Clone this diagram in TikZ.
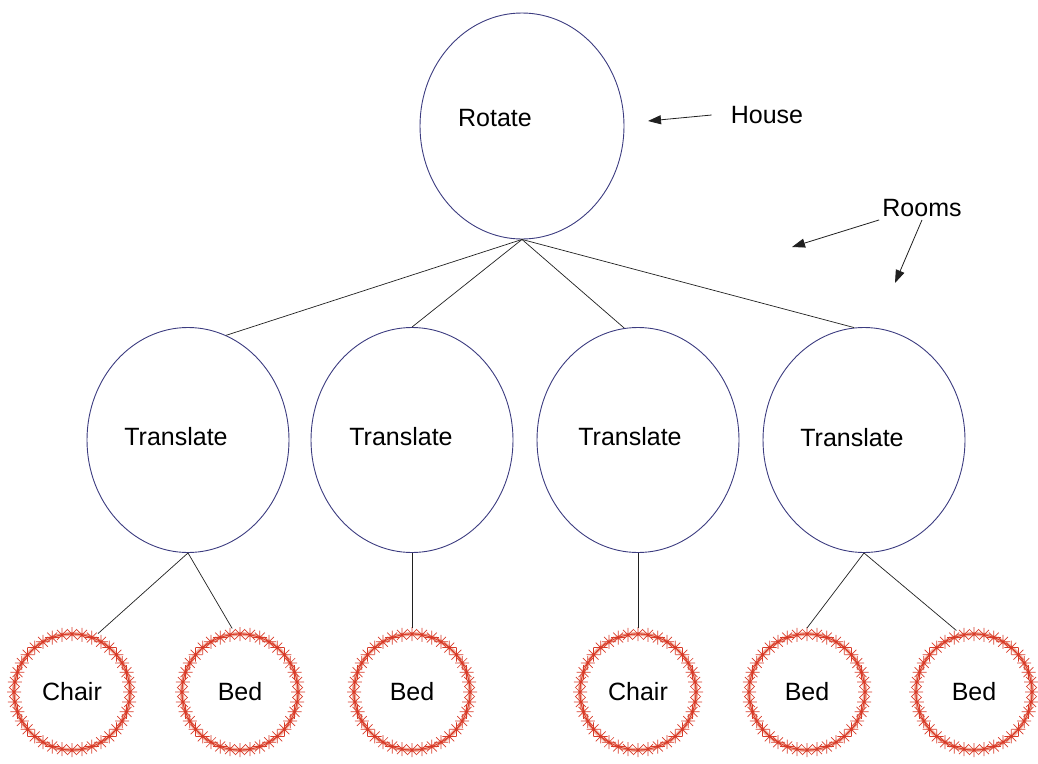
\documentclass[tikz,border=0pt]{standalone}
\usepackage{fontspec}
\setmainfont{Liberation Sans}
\usetikzlibrary{shapes.geometric,arrows.meta}
\definecolor{ring}{HTML}{3C3C80}
\definecolor{wire}{HTML}{202020}
\definecolor{leafred}{HTML}{D83A28}
\definecolor{leafglow}{HTML}{F4B8A8}
\tikzset{
  opnode/.style={draw=ring, line width=0.9pt, ellipse, inner sep=0pt, minimum width=202pt, minimum height=225pt},
  leaf/.style={circle, draw=leafglow, line width=4pt, inner sep=0pt, minimum size=116pt, outer sep=6pt, font=\fontsize{25}{30}\selectfont},
  lab/.style={font=\fontsize{25}{30}\selectfont, inner sep=3pt},
  link/.style={draw=wire, line width=0.7pt},
  ptr/.style={draw=wire, line width=0.8pt, -{Triangle[length=13pt,width=9pt]}},
  starmark/.style={draw=leafred, line width=0.7pt},
}
\begin{document}
\begin{tikzpicture}[x=1pt, y=-1pt]
  \useasboundingbox (0,0) rectangle (1038,763);

  % operations
  \node[opnode, minimum width=204pt, minimum height=226pt] (root) at (522,126) {};
  \node[lab] (rootlab) at (495,118) {Rotate};

  \node[opnode] (t1) at (188,440) {};
  \node[opnode] (t2) at (412,440) {};
  \node[opnode] (t3) at (638,440) {};
  \node[opnode] (t4) at (864,440) {};
  \node[lab] (t1lab) at (176,437) {Translate};
  \node[lab] (t2lab) at (401,437) {Translate};
  \node[lab] (t3lab) at (630,437) {Translate};
  \node[lab] (t4lab) at (852,438) {Translate};

  % objects
  \node[leaf] (c1) at (72,692) {Chair};
  \node[leaf] (b1) at (240,692) {Bed};
  \node[leaf] (b2) at (412,692) {Bed};
  \node[leaf] (c2) at (638,692) {Chair};
  \node[leaf] (b3) at (807,692) {Bed};
  \node[leaf] (b4) at (974,692) {Bed};

  \foreach \n in {c1,b1,b2,c2,b3,b4} {
    \draw[leafred, line width=0.8pt] (\n.center) circle[radius=58];
    \foreach \a in {0,10,...,350}
      \draw[starmark, shift={(\n.\a)}, shift={(\a:-6pt)}]
        (0:7) -- (180:7) (45:7) -- (225:7) (90:7) -- (270:7) (135:7) -- (315:7);
  }

  % tree
  \draw[link] (root.south) -- (t1.70);
  \draw[link] (root.south) -- (t2.north);
  \draw[link] (root.south) -- (t3.97);
  \draw[link] (root.south) -- (t4.95);

  \draw[link] (t1.south) -- (c1.66);
  \draw[link] (t1.south) -- (b1.97);
  \draw[link] (t2.south) -- (b2.north);
  \draw[link] (t3.south) -- (c2.north);
  \draw[link] (t4.south) -- (b3.north);
  \draw[link] (t4.south) -- (b4.106);

  % notes
  \node[lab] (house) at (767,115) {House};
  \node[lab] (rooms) at (922,208) {Rooms};
  \coordinate (housetip) at (648,121);
  \coordinate (roomtipa) at (792,247);
  \coordinate (roomtipb) at (895,283);
  \draw[ptr] ([xshift=-16pt]house.west) -- (housetip);
  \draw[ptr] (rooms.south west) -- (roomtipa);
  \draw[ptr] (rooms.south) -- (roomtipb);
\end{tikzpicture}
\end{document}
